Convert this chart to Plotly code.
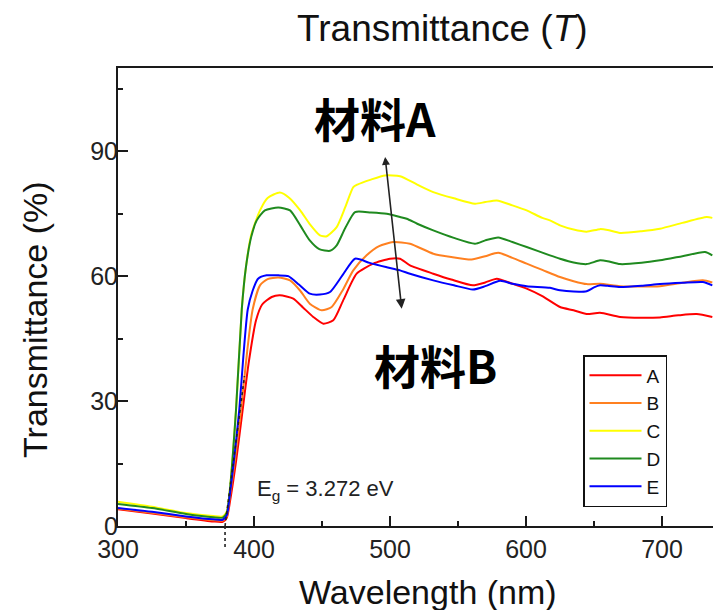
import plotly.graph_objects as go

# ---------------- data ----------------
series_names = ["A", "B", "C", "D", "E"]
series_colors = ["#ff0000", "#ff8020", "#ffff00", "#1f8a1f", "#0000ff"]

wl_A = [300, 325, 350, 370, 377, 380, 382.4, 387, 391.7, 396, 401.5, 406, 413, 419, 428.9, 436, 443.6, 451, 458.3, 466, 475.5, 487.7, 500, 507.4, 514.7, 531.8, 545, 561, 570, 578.5, 590, 600.5, 612, 625, 635, 644.6, 654.4, 669.1, 685, 698.5, 712, 725.5, 737]
T_A = [4.0, 3.0, 1.9, 1.1, 1.0, 2.0, 6, 16, 28, 39, 49.4, 53.2, 55, 55.4, 54.6, 52.5, 50.2, 48.6, 49.4, 54.5, 60.6, 63, 64.2, 64.2, 62.6, 60.6, 59.2, 57.8, 58.5, 59.4, 58.2, 57.0, 55.2, 52.6, 51.8, 50.9, 51.2, 50.2, 50.0, 50.1, 50.6, 50.9, 50.2]

wl_B = [300, 325, 350, 370, 377, 380, 382, 386, 390.5, 395, 399, 404.4, 410, 417.9, 426.5, 434, 441, 449.8, 457.1, 465, 473, 482.8, 492, 502.4, 514.7, 531.8, 545, 560, 570, 579.6, 590, 600.5, 612, 625, 635, 644.6, 654.4, 669.1, 685, 698.5, 715, 730, 737]
T_B = [4.2, 3.2, 2.1, 1.4, 1.3, 2.3, 6.5, 16, 28, 42, 52, 57.8, 59.3, 59.7, 59, 56.5, 53.4, 51.8, 52.6, 56.5, 61.4, 65, 67.2, 68.2, 67.8, 65.4, 64.6, 64.0, 64.8, 65.6, 64.4, 63.0, 61.5, 59.8, 58.8, 58.1, 58.2, 57.6, 57.5, 57.6, 58.4, 59.0, 58.5]

wl_C = [300, 325, 350, 370, 377, 380, 382, 386.8, 391, 394, 398, 404.4, 410, 419, 426, 434, 441, 448.5, 453.5, 460.8, 467, 473, 476, 486, 496.3, 507.4, 520, 531.8, 547, 562.5, 570, 578.5, 590, 600.5, 612, 617.6, 625, 635, 644.6, 654.4, 660, 669.1, 685, 698.5, 715, 732.9, 737]
T_C = [5.8, 4.6, 3.1, 2.4, 2.3, 3.5, 8, 28, 52, 62, 70, 75.8, 78.8, 80.1, 78.8, 75.8, 72.5, 69.8, 69.6, 71.8, 76.5, 81.4, 82, 83.2, 84.2, 84.0, 82, 80.2, 78.7, 77.4, 77.8, 78.2, 77.0, 75.8, 74.0, 73.4, 72.2, 71.2, 70.7, 71.3, 71.1, 70.4, 70.8, 71.4, 72.8, 74.2, 74.0]

wl_D = [300, 325, 350, 370, 377, 380, 381.8, 386.8, 391, 394, 398, 402, 408, 417.9, 426.5, 434, 441, 448, 455.9, 460.8, 467, 474.3, 486, 497.6, 507.4, 512.3, 520, 531.8, 547, 562.5, 570, 579.6, 590, 600.5, 617.6, 625, 635, 644.6, 654.4, 660, 669.1, 685, 698.5, 715, 731.6, 737]
T_D = [5.3, 4.3, 2.9, 2.1, 2.0, 3.2, 7, 28, 52, 62, 69.5, 73.4, 75.8, 76.5, 75.8, 72.2, 68.6, 66.5, 66.1, 67.4, 71.5, 75.4, 75.3, 75.0, 74.2, 73.8, 72.6, 71.0, 69.2, 67.8, 68.6, 69.3, 68.2, 67.0, 65.0, 64.2, 63.3, 62.9, 63.8, 63.6, 62.9, 63.2, 63.8, 64.8, 65.8, 65.0]

wl_E = [300, 325, 350, 370, 377, 380, 381.6, 385, 389.2, 392, 395.4, 399, 403, 409.3, 418, 425.2, 433, 441, 448.5, 455.9, 465, 474.3, 485, 497, 507.4, 514.7, 531.8, 547, 561, 570, 580.9, 590, 600.5, 617.6, 625, 635, 644.6, 650, 654.4, 660, 669.1, 685, 698.5, 715, 730, 737]
T_E = [4.3, 3.4, 2.3, 1.6, 1.5, 2.6, 6, 15, 28, 40, 52, 56.5, 59.4, 60.2, 60.2, 60.0, 58, 55.8, 55.6, 56.2, 60.2, 64.2, 63.2, 62.2, 61.4, 60.6, 59.0, 57.8, 56.8, 57.6, 58.9, 58.2, 57.6, 57.2, 56.6, 56.3, 56.4, 57.3, 57.8, 57.7, 57.4, 57.7, 58.1, 58.4, 58.6, 57.8]

wavelengths = [wl_A, wl_B, wl_C, wl_D, wl_E]
transmittances = [T_A, T_B, T_C, T_D, T_E]

# band-gap tangent line (nm, %)
tangent_wl = [378.7, 393]
tangent_T = [0, 36]
eg_wl = 378.7
eg_text = "E<sub>g</sub> = 3.272 eV"

# arrow from 材料A to 材料B (nm, %)
arrow_start = (496.3, 89.0)
arrow_end = (508.6, 52.2)

x_range = [300, 737.5]
y_range = [0, 110]
x_ticks = [300, 400, 500, 600, 700]
y_ticks = [0, 30, 60, 90]

FONT = "Liberation Sans, Arial, sans-serif"
CJK = "Noto Sans CJK SC, Noto Sans CJK JP, sans-serif"
AX = "#1a1a1a"

fig = go.Figure()
for name, col, xs, ys in zip(series_names, series_colors, wavelengths, transmittances):
    fig.add_trace(go.Scatter(x=xs, y=ys, mode="lines", name=name,
                             line=dict(color=col, width=2, shape="spline", smoothing=0.6)))

fig.add_trace(go.Scatter(x=tangent_wl, y=tangent_T, mode="lines", showlegend=False,
                         line=dict(color="#222", width=1.6, dash="dot")))

fig.update_layout(
    width=713, height=610,
    margin=dict(l=118, r=0, t=68, b=84),
    paper_bgcolor="white", plot_bgcolor="white",
    font=dict(family=FONT, color="#222"),
    showlegend=True,
    legend=dict(x=(583 - 118) / 595, y=(526 - 355) / 458, xanchor="left", yanchor="top",
                bgcolor="white", bordercolor="#111", borderwidth=1.5,
                font=dict(family=FONT, size=19, color="#111"),
                tracegroupgap=0, itemwidth=52),
)

fig.update_xaxes(range=x_range, tickvals=x_ticks, ticks="inside", ticklen=10, tickwidth=1.5,
                 tickcolor=AX, showline=True, linecolor=AX, linewidth=2, mirror=True,
                 showgrid=False, zeroline=False, tickfont=dict(size=25, color="#222"),
                 minor=dict(dtick=50, tick0=300, ticks="inside", ticklen=5, tickwidth=1.5, tickcolor=AX))
fig.update_yaxes(range=y_range, tickvals=y_ticks, ticks="inside", ticklen=10, tickwidth=1.5,
                 tickcolor=AX, showline=True, linecolor=AX, linewidth=2, mirror=False,
                 showgrid=False, zeroline=False, tickfont=dict(size=25, color="#222"),
                 ticklabelstandoff=-7,
                 minor=dict(dtick=15, tick0=0, ticks="inside", ticklen=5, tickwidth=1.5, tickcolor=AX))

# vertical dotted tick below axis at Eg
eg_px = (eg_wl - x_range[0]) / (x_range[1] - x_range[0])
fig.add_shape(type="line", xref="paper", yref="paper", x0=eg_px, x1=eg_px, y0=0.0, y1=-0.048,
              line=dict(color="#222", width=1.6, dash="dot"))

anns = [
    dict(text="Transmittance (<i>T</i>)", xref="paper", yref="paper", x=0.545, y=1.087,
         xanchor="center", yanchor="middle", showarrow=False, font=dict(size=37, family=FONT, color="#111")),
    dict(text="Transmittance (%)", xref="paper", yref="paper", x=-0.1395, y=0.45, textangle=-90,
         xanchor="center", yanchor="middle", showarrow=False, font=dict(size=34, family=FONT, color="#111")),
    dict(text="Wavelength (nm)", xref="paper", yref="paper", x=0.521, y=-0.145,
         xanchor="center", yanchor="middle", showarrow=False, font=dict(size=34, family=FONT, color="#111")),
    dict(text="<b>材料A</b>", x=489.3, y=98.2, xref="x", yref="y", showarrow=False,
         xanchor="center", yanchor="middle", font=dict(size=46, family=CJK, color="black")),
    dict(text="<b>材料B</b>", x=533.8, y=38.9, xref="x", yref="y", showarrow=False,
         xanchor="center", yanchor="middle", font=dict(size=46, family=CJK, color="black")),
    dict(text=eg_text, x=400.5, y=8.6, xref="x", yref="y", showarrow=False,
         xanchor="left", yanchor="middle", font=dict(size=22, family=FONT, color="#222")),
    dict(text="", x=arrow_end[0], y=arrow_end[1], ax=arrow_start[0], ay=arrow_start[1],
         xref="x", yref="y", axref="x", ayref="y", showarrow=True, arrowhead=2, startarrowhead=2,
         arrowside="end+start", arrowwidth=1.6, arrowsize=1.2, startarrowsize=1.0, arrowcolor="#222"),
]
fig.update_layout(annotations=anns)

# remove the browser's default 8px page margin so the figure fills the window
fig.write_html("out.html", config={"displayModeBar": False},
               post_script="document.body.style.margin='0';document.body.style.overflow='hidden';")
